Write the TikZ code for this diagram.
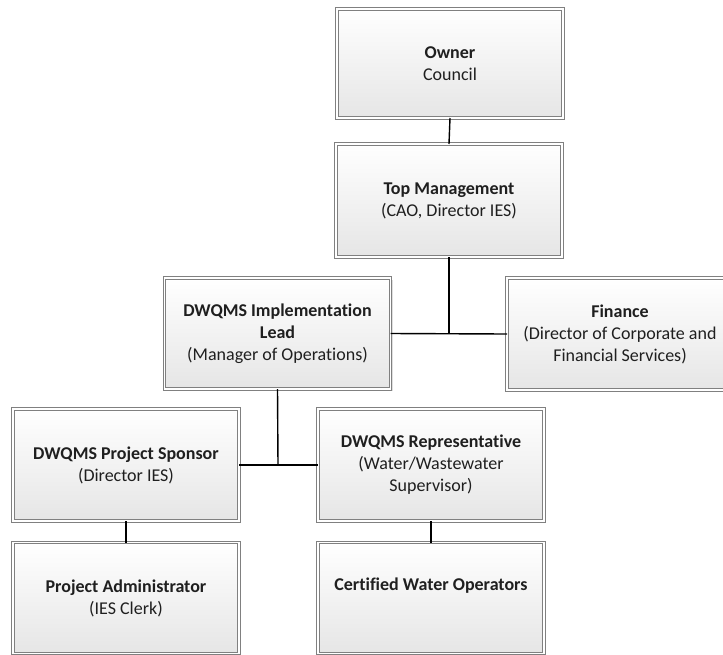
\documentclass[tikz,border=0pt]{standalone}
\usepackage{fontspec}
\setmainfont{Carlito}[Ligatures=NoCommon]
\usetikzlibrary{shadows}
\tikzset{
  orgbox/.style={top color=white, bottom color=black!10, align=center, inner sep=0pt, outer sep=0pt,
    minimum width=#1, text=black!88,
    font=\fontsize{18}{22}\selectfont,
    drop shadow={shadow xshift=2pt, shadow yshift=-2pt, opacity=0.25, fill=black!50},
    postaction={draw=black!50, line width=0.9pt, double=white, double distance=1.6pt}},
  orgbox/.default=226pt,
  link/.style={draw=black, line width=1.4pt}
}
\begin{document}
\begin{tikzpicture}[x=1pt,y=-1pt]
\useasboundingbox (0,0) rectangle (723,654);
\clip (0,0) rectangle (723,654);
\node[orgbox, minimum height=109pt] (owner) at (450,63.5) {\textbf{Owner}\\Council};
\node[orgbox, minimum height=113pt] (top) at (449,200.5) {\textbf{Top Management}\\(CAO, Director IES)};
\node[orgbox, minimum height=111pt] (impl) at (277.5,333.5) {\textbf{DWQMS Implementation}\\\textbf{Lead}\\(Manager of Operations)};
\node[orgbox, minimum height=112pt] (fin) at (620,334) {\textbf{Finance}\\(Director of Corporate and\\Financial Services)};
\node[orgbox, minimum height=112pt] (spon) at (126,465) {\textbf{DWQMS Project Sponsor}\\(Director IES)};
\node[orgbox, minimum height=112pt] (rep) at (431,465) {\textbf{DWQMS Representative}\\(Water/Wastewater\\Supervisor)};
\node[orgbox, minimum height=111pt] (admin) at (126,598) {\textbf{Project Administrator}\\(IES Clerk)};
\node[orgbox, minimum height=111pt] (cert) at (431,598) {\textbf{Certified Water Operators}\\\strut};
\coordinate (j1) at (449,333);
\coordinate (j2) at (278,465);
\draw[link] (owner.south) -- (top.north);
\draw[link] (top.south) -- (j1);
\draw[link] (impl.east) -- (fin.west);
\draw[link] (impl.south) -- (j2);
\draw[link] (spon.east) -- (rep.west);
\draw[link] (spon.south) -- (admin.north);
\draw[link] (rep.south) -- (cert.north);
\end{tikzpicture}
\end{document}
